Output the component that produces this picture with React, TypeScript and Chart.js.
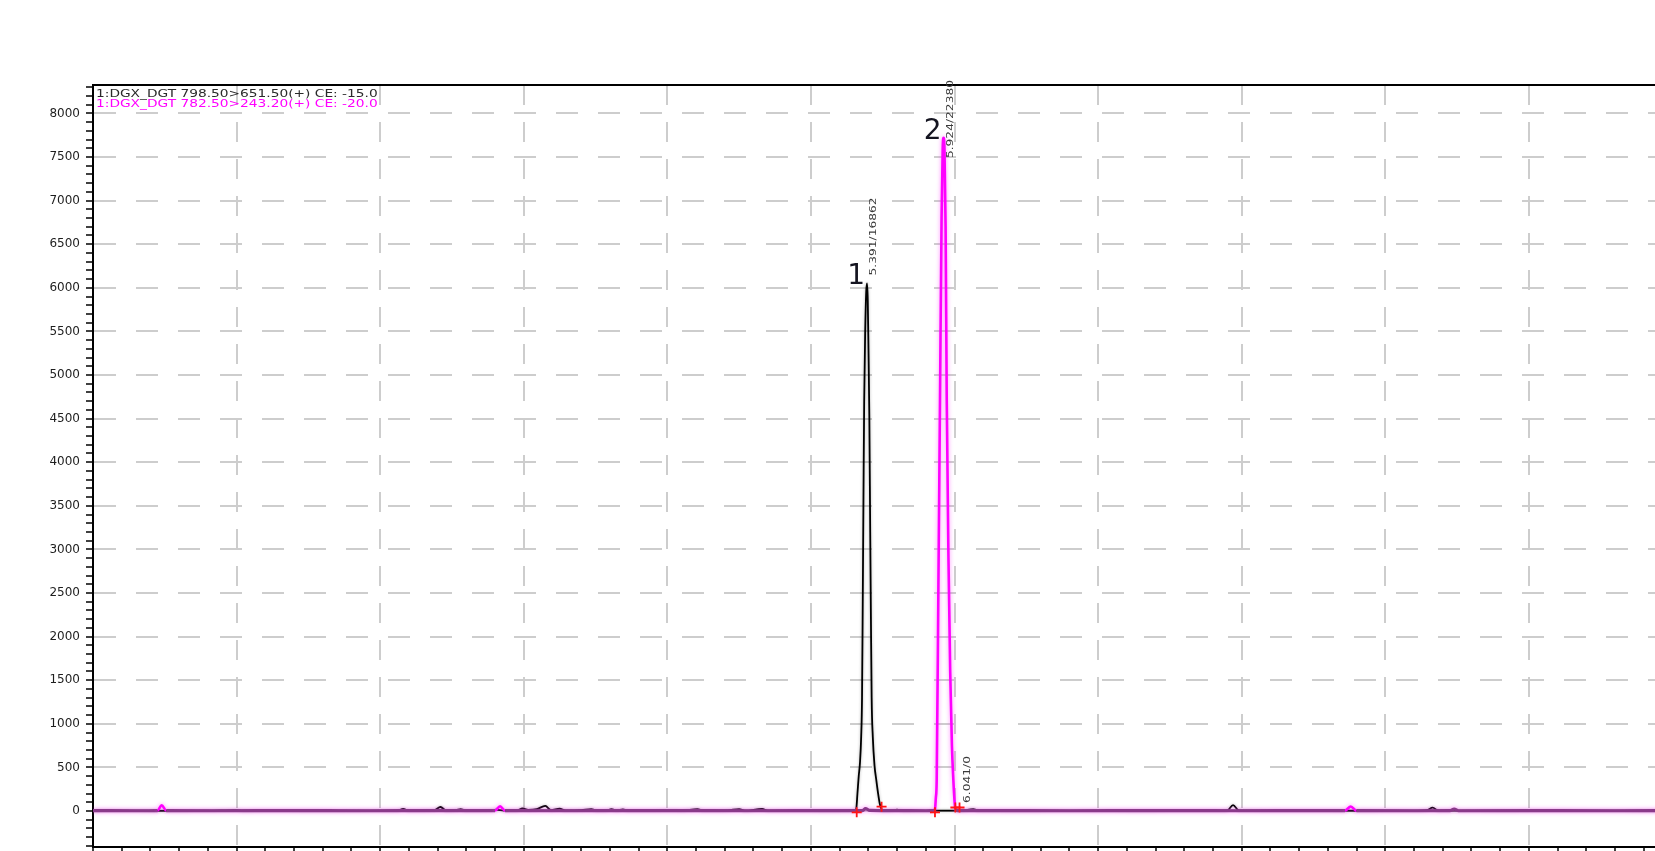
import { useEffect, useRef } from "react";
import { Chart, registerables } from "chart.js";

Chart.register(...registerables);

type Pt = [number, number];

// MRM channel titles (black = 798.50>651.50, magenta = 782.50>243.20)
const TRACE_TITLES = [
  "1:DGX_DGT 798.50>651.50(+) CE: -15.0",
  "1:DGX_DGT 782.50>243.20(+) CE: -20.0",
];
const TRACE_COLORS = ["#000000", "#ff00ff"];
const BASELINE_COLOR = "#8a3a8a";

// Integrated peaks: number, retention time (min), apex height, area
const PEAK_NUMBERS = ["1", "2", ""];
const PEAK_TIMES = [5.391, 5.924, 6.041];
const PEAK_HEIGHTS = [6050, 7720, 0];
const PEAK_AREAS = [16862, 22380, 0];

// Integration start / end markers
const CUT_TIMES = [5.319, 5.492, 5.864, 6.006, 6.035];
const CUT_LEVELS = [-15, 50, -15, 40, 40];

// Axis ranges and tick steps
const TIME_MIN = 0;
const TIME_MAX = 12;
const TIME_MINOR_STEP = 0.2;
const TIME_GRID_STEP = 1;
const INTENSITY_MIN = -413;
const INTENSITY_MAX = 8326;
const INTENSITY_MINOR_STEP = 100;
const INTENSITY_LABEL_STEP = 500;

// 798.50>651.50 trace (time in min, intensity)
const BLACK_TRACE: Pt[] = [
  [0.0, 3], [0.25, 4], [0.55, 2], [0.8, 4], [1.0, 9], [1.04, 3], [1.35, 4],
  [1.7, 2], [2.0, 4], [2.12, 5], [2.16, 24], [2.2, 4], [2.32, 6], [2.38, 12],
  [2.42, 46], [2.46, 5], [2.53, 10], [2.56, 22], [2.6, 4], [2.75, 6],
  [2.81, 14], [2.86, 4], [2.96, 8], [2.99, 30], [3.03, 12], [3.09, 20],
  [3.15, 58], [3.19, 10], [3.25, 26], [3.29, 6], [3.4, 9], [3.47, 22],
  [3.51, 5], [3.58, 8], [3.61, 20], [3.65, 6], [3.69, 18], [3.73, 4],
  [3.9, 5], [4.05, 8], [4.1, 4], [4.21, 20], [4.25, 5], [4.42, 8], [4.5, 22],
  [4.54, 4], [4.66, 24], [4.7, 4], [4.9, 5], [5.1, 3], [5.305, 5],
  [5.316, 30], [5.324, 200], [5.333, 400], [5.342, 560], [5.35, 850],
  [5.356, 1300], [5.361, 2400], [5.366, 3600], [5.371, 4700], [5.378, 5500],
  [5.385, 5950], [PEAK_TIMES[0], PEAK_HEIGHTS[0]], [5.396, 5850],
  [5.401, 5300], [5.407, 4500], [5.413, 3200], [5.418, 2200], [5.423, 1300],
  [5.431, 850], [5.443, 520], [5.455, 360], [5.468, 200], [5.48, 80],
  [5.492, 20], [5.505, 5], [5.56, 6], [5.6, 16], [5.64, 3], [5.85, 4],
  [6.05, 5], [6.13, 22], [6.17, 4], [6.5, 3], [6.9, 5], [7.3, 3], [7.7, 4],
  [7.9, 8], [7.94, 68], [7.98, 6], [8.4, 4], [8.8, 3], [9.2, 5], [9.29, 10],
  [9.33, 38], [9.37, 4], [9.8, 3], [10.3, 4], [10.8, 3], [11.4, 4], [12.0, 3],
];

// 782.50>243.20 trace (time in min, intensity)
const MAGENTA_TRACE: Pt[] = [
  [0.0, 4], [0.3, 3], [0.45, 5], [0.478, 65], [0.51, 5], [0.9, 3], [1.4, 4],
  [1.9, 3], [2.4, 4], [2.8, 5], [2.835, 55], [2.87, 4], [3.4, 3], [4.0, 4],
  [4.6, 3], [5.1, 4], [5.36, 5], [5.38, 28], [5.41, 6], [5.6, 4], [5.8, 3],
  [5.855, 4], [5.864, 20], [5.87, 150], [5.876, 356], [5.888, 2600],
  [5.899, 4713], [5.91, 6800], [5.918, 7600], [PEAK_TIMES[1], PEAK_HEIGHTS[1]],
  [5.93, 7600], [5.938, 6700], [5.946, 4713], [5.958, 2900], [5.97, 1600],
  [5.982, 750], [5.992, 356], [6.0, 120], [6.006, 20], [6.02, 5], [6.2, 4],
  [6.8, 3], [7.4, 4], [8.0, 3], [8.5, 4], [8.72, 5], [8.76, 52], [8.8, 4],
  [9.2, 3], [9.45, 4], [9.48, 22], [9.51, 3], [10.0, 4], [10.6, 3],
  [11.2, 4], [12.0, 3],
];

const GRID_COLOR = "#cdcdcd";
const NONE = "rgba(0,0,0,0)";
const FONT = "'DejaVu Sans', Verdana, sans-serif";

const toXY = (pts: Pt[]) => pts.map(([x, y]) => ({ x, y }));
const isMultiple = (v: number, step: number) =>
  Math.abs(v / step - Math.round(v / step)) < 1e-6;

function drawStretched(
  ctx: CanvasRenderingContext2D,
  text: string,
  x: number,
  y: number,
  sx: number
) {
  ctx.save();
  ctx.translate(x, y);
  ctx.scale(sx, 1);
  ctx.fillText(text, 0, 0);
  ctx.restore();
}

// keep the plot frame fixed: no extra room for first/last tick labels
function zeroPadding(s: any) {
  s.paddingTop = 0;
  s.paddingBottom = 0;
  s.paddingLeft = 0;
  s.paddingRight = 0;
}

const chromatogramDecor = {
  id: "chromatogramDecor",
  beforeDatasetDraw(chart: any, args: any) {
    if (args.index > 1) return;
    const ctx = chart.ctx;
    ctx.save();
    ctx.shadowColor = args.index === 0 ? "rgba(255,60,255,0.6)" : "rgba(0,0,0,0.3)";
    ctx.shadowBlur = args.index === 0 ? 4 : 3;
  },
  afterDatasetDraw(chart: any, args: any) {
    if (args.index > 1) return;
    chart.ctx.restore();
  },
  afterDraw(chart: any) {
    const { ctx, chartArea, scales } = chart;
    const xs = scales.x;
    const ys = scales.y;
    ctx.save();

    // top frame line
    ctx.strokeStyle = "#000";
    ctx.lineWidth = 2;
    ctx.beginPath();
    ctx.moveTo(chartArea.left - 1, chartArea.top);
    ctx.lineTo(chartArea.right, chartArea.top);
    ctx.stroke();

    // channel titles
    ctx.font = `11px ${FONT}`;
    ctx.textAlign = "left";
    ctx.textBaseline = "alphabetic";
    TRACE_TITLES.forEach((t, i) => {
      ctx.fillStyle = i === 0 ? "#2a2a2a" : TRACE_COLORS[1];
      drawStretched(ctx, t, chartArea.left + 3, chartArea.top + 11.5 + i * 10.5, 1.25);
    });

    PEAK_TIMES.forEach((rt, i) => {
      const px = xs.getPixelForValue(rt);
      const py = ys.getPixelForValue(PEAK_HEIGHTS[i]);

      // peak number
      if (PEAK_NUMBERS[i]) {
        ctx.font = `28px ${FONT}`;
        ctx.fillStyle = "#141420";
        ctx.textAlign = "right";
        ctx.textBaseline = "alphabetic";
        ctx.fillText(PEAK_NUMBERS[i], px - 2, py + 1);
      }

      // rotated "RT/area" label
      const text = `${rt.toFixed(3)}/${PEAK_AREAS[i]}`;
      const sx = 1.36;
      ctx.font = `9px ${FONT}`;
      ctx.fillStyle = "#3a3a3a";
      ctx.textAlign = "left";
      ctx.textBaseline = "middle";
      const len = ctx.measureText(text).width * sx;
      let bottom = py - 8;
      if (bottom - len < chartArea.top - 5) bottom = chartArea.top - 5 + len;
      ctx.save();
      ctx.translate(px + 7, bottom);
      ctx.rotate(-Math.PI / 2);
      ctx.scale(sx, 1);
      ctx.fillText(text, 0, 0);
      ctx.restore();
    });

    ctx.restore();
  },
};

export default function App() {
  const canvasRef = useRef<HTMLCanvasElement | null>(null);

  useEffect(() => {
    const canvas = canvasRef.current;
    if (!canvas) return;

    const isBaseline = (c: any) =>
      Math.abs(c.p0.parsed.y) < 30 && Math.abs(c.p1.parsed.y) < 30;

    const chart = new Chart(canvas, {
      type: "line",
      data: {
        datasets: [
          {
            label: TRACE_TITLES[1],
            data: toXY(MAGENTA_TRACE),
            borderColor: TRACE_COLORS[1],
            borderWidth: 2.6,
            borderJoinStyle: "round",
            cubicInterpolationMode: "monotone",
            pointRadius: 0,
            order: 1,
            segment: {
              borderColor: (c: any) => (isBaseline(c) ? BASELINE_COLOR : undefined),
              borderWidth: (c: any) => (isBaseline(c) ? 3.2 : undefined),
            },
          } as any,
          {
            label: TRACE_TITLES[0],
            data: toXY(BLACK_TRACE),
            borderColor: TRACE_COLORS[0],
            borderWidth: 1.8,
            borderJoinStyle: "round",
            cubicInterpolationMode: "monotone",
            pointRadius: 0,
            order: 2,
          },
          {
            label: "integration",
            data: CUT_TIMES.map((t, i) => ({ x: t, y: CUT_LEVELS[i] })),
            showLine: false,
            pointStyle: "cross",
            pointRadius: 5,
            pointBorderColor: "#ff1414",
            pointBorderWidth: 1.8,
            order: 0,
          },
        ],
      },
      options: {
        responsive: false,
        devicePixelRatio: 1,
        animation: false,
        events: [],
        layout: { autoPadding: false, padding: { top: 85, left: 0, right: 0, bottom: 0 } },
        plugins: {
          legend: { display: false },
          tooltip: { enabled: false },
        },
        scales: {
          x: {
            type: "linear",
            min: TIME_MIN,
            max: TIME_MAX,
            afterFit: (s: any) => {
              s.height = 4;
              zeroPadding(s);
            },
            ticks: {
              display: false,
              stepSize: TIME_MINOR_STEP,
              autoSkip: false,
              includeBounds: false,
            },
            grid: {
              color: (c: any) =>
                c.tick && isMultiple(c.tick.value, TIME_GRID_STEP) ? GRID_COLOR : NONE,
              lineWidth: 2,
              drawTicks: true,
              tickColor: "#000",
              tickLength: 8,
              tickWidth: 1.5,
            },
            border: { display: true, color: "#000", width: 2, dash: [20, 17] },
          },
          y: {
            type: "linear",
            min: INTENSITY_MIN,
            max: INTENSITY_MAX,
            afterFit: (s: any) => {
              s.width = 93;
              zeroPadding(s);
            },
            ticks: {
              stepSize: INTENSITY_MINOR_STEP,
              autoSkip: false,
              includeBounds: false,
              padding: 6,
              color: "#1e1e1e",
              font: { family: FONT, size: 12 },
              callback: (v: any) =>
                isMultiple(Number(v), INTENSITY_LABEL_STEP) ? String(v) : "",
            },
            grid: {
              color: (c: any) =>
                c.tick && isMultiple(c.tick.value, INTENSITY_LABEL_STEP) ? GRID_COLOR : NONE,
              lineWidth: 2,
              tickColor: "#000",
              tickLength: 7,
              tickWidth: 1.5,
            },
            border: { display: true, color: "#000", width: 2, dash: [22, 20] },
          },
        },
      },
      plugins: [chromatogramDecor],
    } as any);

    return () => chart.destroy();
  }, []);

  return (
    <div
      style={{
        position: "fixed",
        left: 0,
        top: 0,
        width: "1655px",
        height: "851px",
        overflow: "hidden",
        background: "#fff",
      }}
    >
      <canvas ref={canvasRef} width={1816} height={851} style={{ display: "block" }} />
    </div>
  );
}
